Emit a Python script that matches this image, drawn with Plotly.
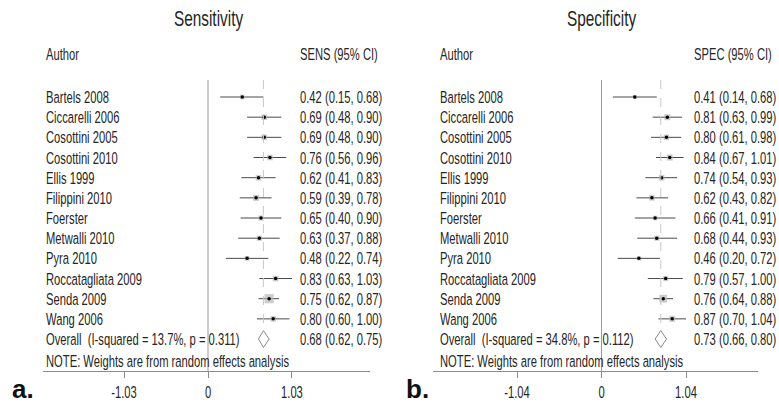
import plotly.graph_objects as go

authors = ["Bartels 2008", "Ciccarelli 2006", "Cosottini 2005", "Cosottini 2010",
           "Ellis 1999", "Filippini 2010", "Foerster", "Metwalli 2010", "Pyra 2010",
           "Roccatagliata 2009", "Senda 2009", "Wang 2006"]

sens_est = [0.42, 0.69, 0.69, 0.76, 0.62, 0.59, 0.65, 0.63, 0.48, 0.83, 0.75, 0.80]
sens_lo = [0.15, 0.48, 0.48, 0.56, 0.41, 0.39, 0.40, 0.37, 0.22, 0.63, 0.62, 0.60]
sens_hi = [0.68, 0.90, 0.90, 0.96, 0.83, 0.78, 0.90, 0.88, 0.74, 1.03, 0.87, 1.00]
sens_overall = [0.68, 0.62, 0.75]
sens_het = "Overall  (I-squared = 13.7%, p = 0.311)"
sens_weights = [6, 8, 8, 8, 8, 9, 7, 7, 6, 8, 16, 8]

spec_est = [0.41, 0.81, 0.80, 0.84, 0.74, 0.62, 0.66, 0.68, 0.46, 0.79, 0.76, 0.87]
spec_lo = [0.14, 0.63, 0.61, 0.67, 0.54, 0.43, 0.41, 0.44, 0.20, 0.57, 0.64, 0.70]
spec_hi = [0.68, 0.99, 0.98, 1.01, 0.93, 0.82, 0.91, 0.93, 0.72, 1.00, 0.88, 1.04]
spec_overall = [0.73, 0.66, 0.80]
spec_het = "Overall  (I-squared = 34.8%, p = 0.112)"
spec_weights = [5, 9, 8, 9, 8, 8, 6, 7, 5, 7, 13, 9]

sens_ticks = [-1.03, 0, 1.03]
spec_ticks = [-1.04, 0, 1.04]

W, H = 779, 414
ROW0, STEP = 97.0, 20.17


def rowy(px):
    return (px - ROW0) / STEP


FONT = "Liberation Sans, Arial, sans-serif"
TXT = "#262626"
FS = 16.5

fig = go.Figure()
annotations = []
shapes = []


def ann(xref, x, y, text, size=FS, xanchor="left", align="left"):
    annotations.append(dict(xref=xref, yref="y", x=x, y=y, text=text, showarrow=False,
                            xanchor=xanchor, yanchor="middle", align=align,
                            font=dict(family=FONT, size=size, color=TXT)))


def panel(xa, est, lo, hi, overall, het, weights, title, header, letter,
          x0px, zeropx, ppu):
    n = len(est)
    rows = list(range(n))
    shapes.append(dict(type="line", xref=xa, yref="y", x0=0, x1=0,
                       y0=rowy(80), y1=rowy(371), line=dict(color="#9a9a9a", width=1)))
    shapes.append(dict(type="line", xref=xa, yref="y", x0=overall[0], x1=overall[0],
                       y0=rowy(80), y1=n - 0.45,
                       line=dict(color="#c8c8c8", width=1, dash="dash")))
    xs, ys = [], []
    for i in rows:
        xs += [lo[i], hi[i], None]
        ys += [i, i, None]
    fig.add_trace(go.Scatter(x=xs, y=ys, mode="lines", xaxis=xa, yaxis="y",
                             line=dict(color="#4a4a4a", width=1), hoverinfo="skip"))
    fig.add_trace(go.Scatter(x=est, y=rows, mode="markers", xaxis=xa, yaxis="y",
                             marker=dict(symbol="square", size=[2 + w * 0.45 for w in weights],
                                         color="#b8b8b8", line=dict(width=0)),
                             hoverinfo="skip"))
    fig.add_trace(go.Scatter(x=est, y=rows, mode="markers", xaxis=xa, yaxis="y",
                             marker=dict(symbol="circle", size=3.5, color="#000000"),
                             hoverinfo="skip"))
    oy = n
    fig.add_trace(go.Scatter(x=[overall[1], overall[0], overall[2], overall[0], overall[1]],
                             y=[oy, oy - 0.42, oy, oy + 0.42, oy], mode="lines",
                             xaxis=xa, yaxis="y", fill="toself", fillcolor="white",
                             line=dict(color="#8a8a8a", width=1), hoverinfo="skip"))

    def px2x(p):
        return (p - zeropx) / ppu

    labx = px2x(x0px)
    cix = px2x(x0px + 254)
    ann(xa, labx, rowy(54), "Author")
    ann(xa, cix, rowy(54), header)
    ann(xa, 0, rowy(18), title, size=22, xanchor="center", align="center")
    for i, a in enumerate(authors):
        ann(xa, labx, i, a)
        ann(xa, cix, i, f"{est[i]:.2f} ({lo[i]:.2f}, {hi[i]:.2f})")
    ann(xa, labx, n, het)
    ann(xa, cix, n, f"{overall[0]:.2f} ({overall[1]:.2f}, {overall[2]:.2f})")
    ann(xa, labx, rowy(361), "NOTE: Weights are from random effects analysis")
    annotations.append(dict(xref="paper", yref="paper", x=(x0px - 34) / W, y=1 - 389 / H,
                            text=f"<b>{letter}</b>", showarrow=False, xanchor="left",
                            yanchor="middle", align="left",
                            font=dict(family=FONT, size=26, color="#111111")))


panel("x", sens_est, sens_lo, sens_hi, sens_overall, sens_het, sens_weights,
      "Sensitivity", "SENS (95% CI)", "a.", 44, 208, 81.5)
panel("x2", spec_est, spec_lo, spec_hi, spec_overall, spec_het, spec_weights,
      "Specificity", "SPEC (95% CI)", "b.", 438, 601.5, 81.25)

axis_y = 1 - 371 / H


def xaxis(dom, zeropx, ppu, ticks):
    x0, x1 = dom
    return dict(domain=[x0 / W, x1 / W], range=[(x0 - zeropx) / ppu, (x1 - zeropx) / ppu],
                anchor="free", position=axis_y, showgrid=False, zeroline=False,
                showline=True, linecolor="#8c8c8c", linewidth=1.3,
                ticks="outside", ticklen=6, tickcolor="#8c8c8c", tickwidth=1,
                tickvals=ticks, ticktext=[("%g" % t) if t != 0 else "0" for t in ticks],
                tickfont=dict(family=FONT, size=FS, color=TXT), fixedrange=True)


fig.update_layout(
    width=W, height=H, margin=dict(l=0, r=0, t=0, b=0),
    paper_bgcolor="white", plot_bgcolor="white", showlegend=False,
    xaxis=xaxis((43, 370), 208, 81.5, sens_ticks),
    xaxis2=xaxis((433, 758), 601.5, 81.25, spec_ticks),
    yaxis=dict(domain=[0, 1], range=[rowy(H), rowy(0)], visible=False, fixedrange=True),
    annotations=annotations, shapes=shapes,
)

# The reference uses a narrow sans face; condense the rendered text horizontally.
post = """
(function(){
  document.body.style.margin = '0';
  var gd = document.getElementById('{plot_id}');
  var K = 0.68;
  function sq(){
    gd.querySelectorAll('text').forEach(function(t){
      if (t.getAttribute('data-sq')) return;
      var fs = parseFloat(t.style.fontSize || '0');
      if (fs >= 24) return;
      var b;
      try { b = t.getBBox(); } catch(e) { return; }
      if (!b || !b.width) return;
      var a = t.getAttribute('text-anchor') || 'start';
      var cx = a === 'middle' ? b.x + b.width / 2 : (a === 'end' ? b.x + b.width : b.x);
      var k = fs >= 20 ? 0.7 : K;
      var old = t.getAttribute('transform') || '';
      t.setAttribute('transform', old + ' translate(' + cx + ',0) scale(' + k + ',1) translate(' + (-cx) + ',0)');
      t.setAttribute('data-sq', '1');
    });
  }
  sq();
  if (gd.on) gd.on('plotly_afterplot', sq);
  setTimeout(sq, 30);
  setTimeout(sq, 300);
})();
"""

fig.write_html("out.html", post_script=post, config={"displayModeBar": False})
